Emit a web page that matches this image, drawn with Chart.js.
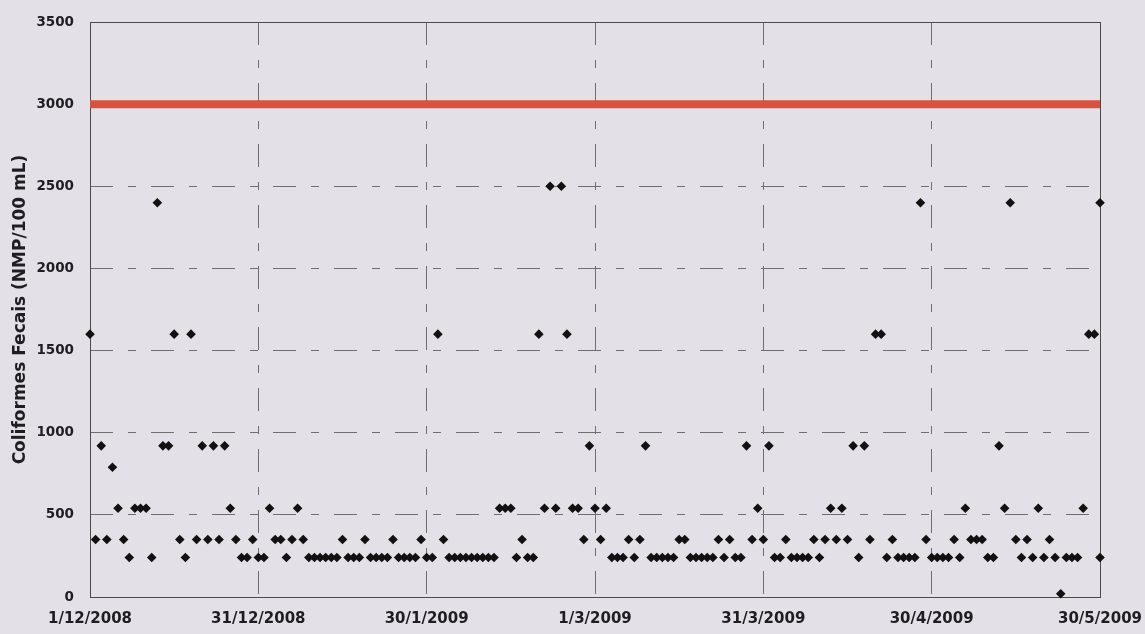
<!DOCTYPE html>
<html>
<head>
<meta charset="utf-8">
<script src="https://cdn.jsdelivr.net/npm/chart.js@4/dist/chart.umd.min.js"></script>
<style>
  html, body { margin: 0; padding: 0; background: #e3e1e7; }
  #wrap { width: 1145px; height: 634px; }
</style>
</head>
<body>
<div id="wrap"><canvas id="myChart"></canvas></div>
<script>
// days counted from 1/12/2008, one sample per day
var tickDays = [0, 30, 60, 90, 120, 150, 180];
var tickLabels = ['1/12/2008', '31/12/2008', '30/1/2009', '1/3/2009', '31/3/2009', '30/4/2009', '30/5/2009'];

// Coliformes fecais (NMP/100 mL), day 0 .. day 180
var dailyValues = [
    1600, 350, 920, 350, 790, 540, 350, 240, 540, 540,
    540, 240, 2400, 920, 920, 1600, 350, 240, 1600, 350,
    920, 350, 920, 350, 920, 540, 350, 240, 240, 350,
    240, 240, 540, 350, 350, 240, 350, 540, 350, 240,
    240, 240, 240, 240, 240, 350, 240, 240, 240, 350,
    240, 240, 240, 240, 350, 240, 240, 240, 240, 350,
    240, 240, 1600, 350, 240, 240, 240, 240, 240, 240,
    240, 240, 240, 540, 540, 540, 240, 350, 240, 240,
    1600, 540, 2500, 540, 2500, 1600, 540, 540, 350, 920,
    540, 350, 540, 240, 240, 240, 350, 240, 350, 920,
    240, 240, 240, 240, 240, 350, 350, 240, 240, 240,
    240, 240, 350, 240, 350, 240, 240, 920, 350, 540,
    350, 920, 240, 240, 350, 240, 240, 240, 240, 350,
    240, 350, 540, 350, 540, 350, 920, 240, 920, 350,
    1600, 1600, 240, 350, 240, 240, 240, 240, 2400, 350,
    240, 240, 240, 240, 350, 240, 540, 350, 350, 350,
    240, 240, 920, 540, 2400, 350, 240, 350, 240, 540,
    240, 350, 240, 20, 240, 240, 240, 540, 1600, 1600,
    240
];
// second sample on the last day
var extraDays = [180];
var extraValues = [2400];

var limitValue = 3000;

var points = dailyValues.map(function (v, i) { return { x: i, y: v }; });
for (var k = 0; k < extraDays.length; k++) {
    points.push({ x: extraDays[k], y: extraValues[k] });
}

var gridColor = '#6f6d72';
var frameColor = '#4a494d';
var textColor = '#1e1e22';

var paperPlugin = {
    id: 'paper',
    beforeDraw: function (chart) {
        var ctx = chart.ctx;
        ctx.save();
        ctx.fillStyle = '#e3e1e7';
        ctx.fillRect(0, 0, chart.width, chart.height);
        ctx.restore();
    },
    beforeDatasetsDraw: function (chart) {
        var a = chart.chartArea;
        var ctx = chart.ctx;
        ctx.save();
        ctx.strokeStyle = frameColor;
        ctx.lineWidth = 1;
        ctx.strokeRect(a.left + 0.5, a.top + 0.5, a.right - a.left, a.bottom - a.top);
        ctx.restore();
    }
};

document.addEventListener('DOMContentLoaded', function () {
    var ctx = document.getElementById('myChart').getContext('2d');
    new Chart(ctx, {
        type: 'scatter',
        data: {
            datasets: [{
                label: 'Limite',
                type: 'line',
                data: [{ x: 0, y: limitValue }, { x: 180, y: limitValue }],
                borderColor: '#d8523f',
                borderWidth: 8,
                pointRadius: 0,
                borderCapStyle: 'butt',
                clip: 10
            }, {
                label: 'Coliformes Fecais',
                data: points,
                pointStyle: 'rectRot',
                pointRadius: 4.8,
                pointBackgroundColor: '#111',
                pointBorderColor: '#111',
                pointBorderWidth: 0,
                clip: 10
            }]
        },
        options: {
            responsive: true,
            maintainAspectRatio: false,
            animation: false,
            layout: { padding: { top: 22, right: 45, left: 0, bottom: 0 } },
            plugins: {
                legend: { display: false },
                tooltip: { enabled: false }
            },
            scales: {
                x: {
                    type: 'linear',
                    min: 0,
                    max: 180,
                    afterBuildTicks: function (scale) {
                        scale.ticks = tickDays.map(function (d) { return { value: d }; });
                    },
                    afterFit: function (scale) {
                        scale.height = 37;
                        scale.paddingLeft = 0;
                        scale.paddingRight = 0;
                    },
                    ticks: {
                        padding: 13,
                        maxRotation: 0,
                        autoSkip: false,
                        color: textColor,
                        font: { family: 'DejaVu Sans', size: 15, weight: 'bold' },
                        callback: function (value) {
                            var i = tickDays.indexOf(value);
                            return i >= 0 ? tickLabels[i] : '';
                        }
                    },
                    grid: { color: gridColor, lineWidth: 1, drawTicks: false },
                    border: { display: false, dash: [23, 15, 8, 15] }
                },
                y: {
                    min: 0,
                    max: 3500,
                    afterFit: function (scale) {
                        scale.width = 90;
                        scale.paddingTop = 0;
                        scale.paddingBottom = 0;
                    },
                    ticks: {
                        stepSize: 500,
                        padding: 16,
                        color: textColor,
                        font: { family: 'DejaVu Sans', size: 13.5, weight: 'bold' },
                        callback: function (value) { return String(value); }
                    },
                    grid: { color: gridColor, lineWidth: 1, drawTicks: false },
                    border: { display: false, dash: [23, 15, 8, 15] },
                    title: {
                        display: true,
                        text: 'Coliformes Fecais (NMP/100 mL)',
                        color: textColor,
                        padding: { top: 10, bottom: 4 },
                        font: { family: 'DejaVu Sans', size: 17, weight: 'bold' }
                    }
                }
            }
        },
        plugins: [paperPlugin]
    });
});
</script>
</body>
</html>
